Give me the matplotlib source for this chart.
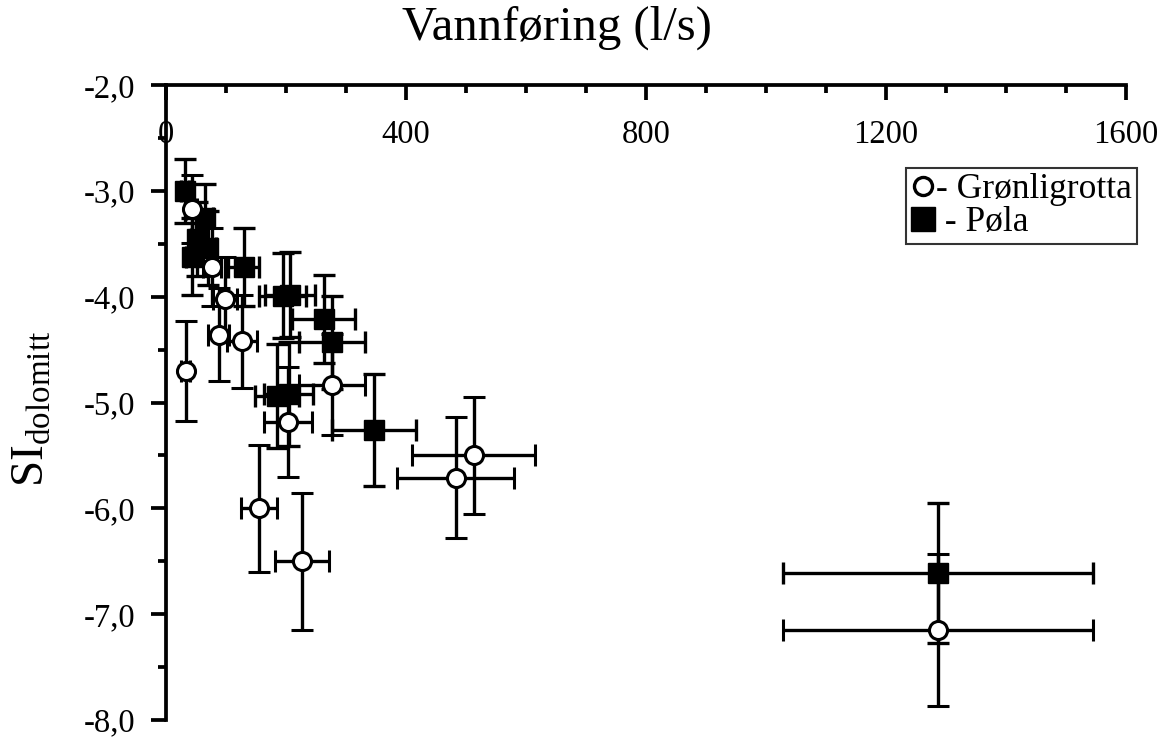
import numpy as np
import matplotlib.pyplot as plt
from matplotlib.lines import Line2D
from matplotlib.ticker import MultipleLocator, FuncFormatter

plt.rcParams['font.family'] = ['Liberation Serif', 'DejaVu Serif']
plt.rcParams['mathtext.fontset'] = 'custom'
plt.rcParams['mathtext.rm'] = 'Liberation Serif'

# Grønligrotta (open circles)
gron_q = [33, 43, 77, 98, 88, 127, 277, 203, 155, 227, 513, 483, 1287]
gron_si = [-4.70, -3.17, -3.72, -4.02, -4.36, -4.42, -4.83, -5.18, -6.00, -6.50, -5.50, -5.71, -7.15]
gron_qerr = [7, 9, 15, 20, 18, 25, 55, 40, 30, 45, 103, 97, 258]
gron_sierr = [0.47, 0.32, 0.37, 0.40, 0.44, 0.44, 0.48, 0.52, 0.60, 0.65, 0.55, 0.57, 0.72]

# Pøla (filled squares)
pola_q = [32, 65, 52, 70, 43, 130, 195, 207, 263, 277, 185, 205, 347, 1287]
pola_si = [-3.00, -3.26, -3.45, -3.54, -3.62, -3.72, -3.99, -3.98, -4.21, -4.43, -4.94, -4.92, -5.26, -6.61]
pola_qerr = [6, 13, 10, 14, 9, 26, 39, 41, 53, 55, 37, 41, 70, 258]
pola_sierr = [0.30, 0.33, 0.35, 0.35, 0.36, 0.37, 0.40, 0.40, 0.42, 0.44, 0.49, 0.49, 0.53, 0.66]

fig = plt.figure(figsize=(11.68, 7.4), dpi=100)
ax = fig.add_axes([0.142, 0.027, 0.822, 0.858])

lw = 2.4
ax.errorbar(pola_q, pola_si, xerr=pola_qerr, yerr=pola_sierr, fmt='s', ms=14,
            mfc='black', mec='black', ecolor='black', elinewidth=lw,
            capsize=8, capthick=lw, zorder=3)
ax.errorbar(gron_q, gron_si, xerr=gron_qerr, yerr=gron_sierr, fmt='o', ms=13,
            mfc='white', mec='black', mew=2.2, ecolor='black', elinewidth=lw,
            capsize=8, capthick=lw, zorder=4)

ax.set_xlim(0, 1600)
ax.set_ylim(-8, -2)

for s in ['right', 'bottom']:
    ax.spines[s].set_visible(False)
for s in ['left', 'top']:
    ax.spines[s].set_linewidth(2.7)

ax.xaxis.set_ticks_position('top')
ax.xaxis.set_major_locator(MultipleLocator(400))
ax.xaxis.set_minor_locator(MultipleLocator(100))
ax.tick_params(axis='x', which='major', direction='in', length=11, width=2.7,
               pad=-47, labelsize=23.5)
ax.tick_params(axis='x', which='minor', direction='in', length=6, width=2.7)

ax.yaxis.set_major_locator(MultipleLocator(1))
ax.yaxis.set_minor_locator(MultipleLocator(0.5))
ax.yaxis.set_major_formatter(FuncFormatter(lambda v, p: f"{v:.1f}".replace('.', ',')))
ax.tick_params(axis='y', which='major', direction='out', length=11, width=2.7,
               pad=11, labelsize=23.5)
ax.tick_params(axis='y', which='minor', direction='out', length=6, width=2.7)

fig.text(0.477, 0.962, 'Vannføring (l/s)', ha='center', va='center', fontsize=35)
fig.text(0.028, 0.448, r'SI$_{\mathrm{dolomitt}}$', ha='center', va='center',
         rotation=90, fontsize=34)

handles = [Line2D([], [], ls='none', marker='o', ms=13, mfc='white', mec='black', mew=2.4),
           Line2D([], [], ls='none', marker='s', ms=17, mfc='black', mec='black')]
labels = ['- Grønligrotta', ' - Pøla']
leg = ax.legend(handles, labels, loc='upper right',
                bbox_to_anchor=(1.012, 0.87), fontsize=25.5, frameon=True,
                fancybox=False, edgecolor='black', handlelength=0.65,
                handletextpad=0.05, borderpad=0.15, labelspacing=0.0,
                borderaxespad=0)
leg.get_frame().set_linewidth(1.5)

fig.savefig('out.png', dpi=100)
